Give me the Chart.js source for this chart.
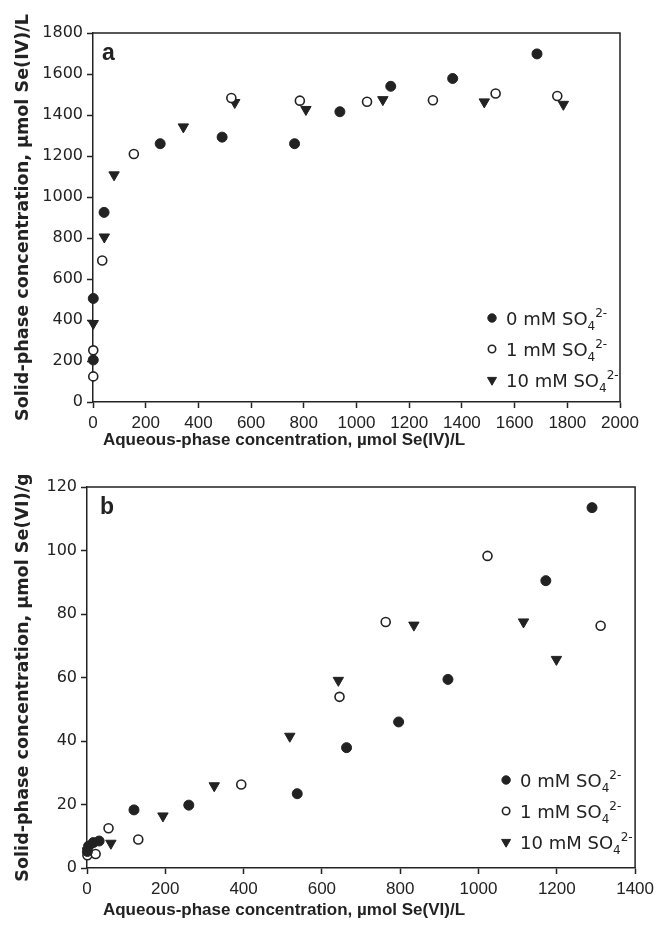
<!DOCTYPE html>
<html>
<head>
<meta charset="utf-8">
<script src="https://cdn.jsdelivr.net/npm/chart.js@4.4.0/dist/chart.umd.min.js"></script>
<style>
  body { margin: 0; background: #fff; }
  canvas { display: block; }
</style>
</head>
<body>
<canvas id="chart-a" width="659" height="460"></canvas>
<canvas id="chart-b" width="659" height="469"></canvas>
<script>
// ---------------- data ----------------
// panel a : Se(IV)
var aZero = [[1,505],[1,205],[42,925],[255,1260],[490,1292],[765,1260],[937,1416],[1130,1540],[1365,1578],[1685,1698]];
var aOne  = [[1,125],[1,252],[35,690],[155,1210],[525,1483],[785,1470],[1040,1465],[1290,1472],[1528,1505],[1762,1493]];
var aTen  = [[1,383],[43,805],[80,1108],[343,1342],[538,1461],[808,1427],[1100,1475],[1485,1464],[1785,1452]];
// panel b : Se(VI)
var bZero = [[1,5.2],[4,6.9],[16,8],[31,8.5],[120,18.3],[260,19.8],[537,23.4],[663,37.9],[796,46],[922,59.4],[1172,90.5],[1290,113.5]];
var bOne  = [[1,4],[22,4.4],[55,12.5],[131,9],[394,26.3],[645,53.9],[763,77.5],[1023,98.3],[1312,76.3]];
var bTen  = [[1,5.4],[61,7.8],[194,16.4],[325,25.9],[518,41.5],[642,59.1],[835,76.5],[1115,77.5],[1199,65.7]];

var seriesLabels = ['0 mM SO', '1 mM SO', '10 mM SO'];
var aXTicks = [0, 2000, 200];
var aYTicks = [0, 1800, 200];
var bXTicks = [0, 1400, 200];
var bYTicks = [0, 120, 20];

var ink = '#222';

function pts(arr) {
    return arr.map(function (p) { return { x: p[0], y: p[1] }; });
}

var markers = [
    { pointStyle: 'circle', radius: 5, rotation: 0, backgroundColor: ink, borderColor: ink, borderWidth: 1 },
    { pointStyle: 'circle', radius: 4.5, rotation: 0, backgroundColor: '#fff', borderColor: ink, borderWidth: 1.6 },
    { pointStyle: 'triangle', radius: 6, rotation: 180, backgroundColor: ink, borderColor: ink, borderWidth: 1 }
];

function makeSet(arr, i) {
    var m = markers[i];
    return {
        label: seriesLabels[i],
        data: pts(arr),
        showLine: false,
        clip: false,
        pointStyle: m.pointStyle,
        pointRadius: m.radius,
        pointHoverRadius: m.radius,
        pointRotation: m.rotation,
        pointBackgroundColor: m.backgroundColor,
        pointBorderColor: m.borderColor,
        pointBorderWidth: m.borderWidth
    };
}

// box frame, panel letter, x title and legend (SO4 2- needs sub/superscripts)
var extras = {
    id: 'extras',
    afterDraw: function (chart, args, opts) {
        var ctx = chart.ctx, a = chart.chartArea;
        ctx.save();
        ctx.strokeStyle = ink;
        ctx.lineWidth = 1.5;
        ctx.beginPath();
        ctx.moveTo(a.left, a.top);
        ctx.lineTo(a.right, a.top);
        ctx.lineTo(a.right, a.bottom);
        ctx.stroke();

        ctx.fillStyle = ink;
        ctx.font = 'bold 23px "Liberation Sans", Arial, sans-serif';
        ctx.textBaseline = 'alphabetic';
        ctx.textAlign = 'left';
        ctx.fillText(opts.letter, a.left + opts.letterDx, a.top + 27);

        // x axis title, sits left of the plot centre in the original
        ctx.font = 'bold 17px "Liberation Sans", Arial, sans-serif';
        ctx.textAlign = 'center';
        ctx.textBaseline = 'middle';
        ctx.fillText(opts.xTitle, opts.xTitleX, chart.height - opts.xTitleUp);

        ctx.textAlign = 'left';
        ctx.textBaseline = 'alphabetic';
        for (var i = 0; i < 3; i++) {
            var mx = a.right - opts.legendDx;
            var my = a.bottom - opts.legendDy + i * 31;
            var m = markers[i];
            ctx.fillStyle = m.backgroundColor;
            ctx.strokeStyle = m.borderColor;
            ctx.lineWidth = m.borderWidth;
            Chart.helpers.drawPoint(ctx, {
                pointStyle: m.pointStyle,
                rotation: m.rotation,
                radius: m.radius - 0.8,
                borderWidth: m.borderWidth
            }, mx, my);

            ctx.fillStyle = ink;
            ctx.font = '18px "DejaVu Sans", sans-serif';
            var tx = mx + 14;
            ctx.fillText(seriesLabels[i], tx, my + 6.5);
            tx += ctx.measureText(seriesLabels[i]).width;
            ctx.font = '12px "DejaVu Sans", sans-serif';
            ctx.fillText('4', tx, my + 12);
            tx += ctx.measureText('4').width;
            ctx.fillText('2-', tx, my - 1);
        }
        ctx.restore();
    }
};

function plain(v) { return String(v); }

function makeChart(id, sets, xT, yT, xTitle, yTitle, geo) {
    return new Chart(document.getElementById(id).getContext('2d'), {
        type: 'scatter',
        data: { datasets: sets },
        plugins: [extras],
        options: {
            responsive: false,
            animation: false,
            devicePixelRatio: 1,
            layout: { padding: { left: 0, right: geo.right, top: geo.top, bottom: 0 } },
            plugins: {
                legend: { display: false },
                tooltip: { enabled: false },
                extras: {
                    letter: geo.letter, letterDx: geo.letterDx,
                    legendDx: geo.legendDx, legendDy: geo.legendDy,
                    xTitle: xTitle, xTitleX: geo.xTitleX, xTitleUp: geo.xTitleUp
                }
            },
            scales: {
                x: {
                    type: 'linear',
                    min: xT[0], max: xT[1],
                    ticks: {
                        stepSize: xT[2], color: ink, padding: 5, maxRotation: 0, autoSkip: false,
                        callback: plain,
                        font: { family: '"Liberation Sans Narrow", "Liberation Sans", sans-serif', size: 17 }
                    },
                    grid: { drawOnChartArea: false, drawTicks: true, tickLength: 6, tickColor: ink, tickWidth: 1.5 },
                    border: { display: true, color: ink, width: 1.5 },
                    title: { display: false },
                    afterFit: function (s) { s.height = geo.xHeight; }
                },
                y: {
                    type: 'linear',
                    min: yT[0], max: yT[1],
                    ticks: {
                        stepSize: yT[2], color: ink, padding: 4,
                        callback: plain,
                        font: { family: '"DejaVu Sans", sans-serif', size: 16 }
                    },
                    grid: { drawOnChartArea: false, drawTicks: true, tickLength: 6, tickColor: ink, tickWidth: 1.5 },
                    border: { display: true, color: ink, width: 1.5 },
                    title: {
                        display: true, text: yTitle, color: ink,
                        font: { family: '"DejaVu Sans", sans-serif', size: 17.6, weight: 'bold' },
                        padding: { top: 13, bottom: 0 }
                    },
                    afterFit: function (s) { s.width = geo.yWidth; }
                }
            }
        }
    });
}

var chartA = makeChart('chart-a',
    [makeSet(aZero, 0), makeSet(aOne, 1), makeSet(aTen, 2)],
    aXTicks, aYTicks,
    'Aqueous-phase concentration, \u00b5mol Se(IV)/L',
    'Solid-phase concentration, \u00b5mol Se(IV)/L',
    { right: 39, top: 33, xHeight: 58, yWidth: 93, letter: 'a', letterDx: 9,
      legendDx: 128, legendDy: 84, xTitleX: 284, xTitleUp: 20 });

var chartB = makeChart('chart-b',
    [makeSet(bZero, 0), makeSet(bOne, 1), makeSet(bTen, 2)],
    bXTicks, bYTicks,
    'Aqueous-phase concentration, \u00b5mol Se(VI)/L',
    'Solid-phase concentration, \u00b5mol Se(VI)/g',
    { right: 13, top: 27, xHeight: 61, yWidth: 87, letter: 'b', letterDx: 13,
      legendDx: 129, legendDy: 88, xTitleX: 284, xTitleUp: 19 });
</script>
</body>
</html>
